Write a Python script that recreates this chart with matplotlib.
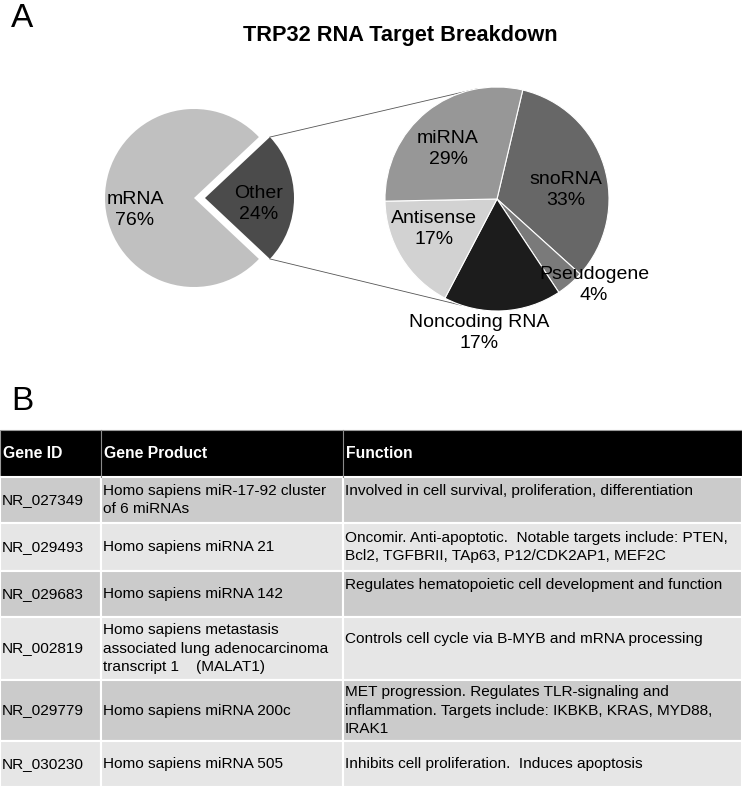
import matplotlib.pyplot as plt
from matplotlib.patches import Rectangle
import numpy as np

plt.rcParams['font.family'] = ['Liberation Sans', 'DejaVu Sans']

W, H = 742, 788

# Panel A data
title = "TRP32 RNA Target Breakdown"
main_labels = ["mRNA", "Other"]
main_pct = [76, 24]
main_colors = ["#c0c0c0", "#4b4b4b"]

sub_labels = ["snoRNA", "Pseudogene", "Noncoding RNA", "Antisense", "miRNA"]
sub_pct = [33, 4, 17, 17, 29]
sub_colors = ["#676767", "#7a7a7a", "#1c1c1c", "#d2d2d2", "#979797"]

# Panel B data
col_names = ["Gene ID", "Gene Product", "Function"]
gene_ids = ["NR_027349", "NR_029493", "NR_029683", "NR_002819", "NR_029779", "NR_030230"]
gene_products = [
    "Homo sapiens miR-17-92 cluster\nof 6 miRNAs",
    "Homo sapiens miRNA 21",
    "Homo sapiens miRNA 142",
    "Homo sapiens metastasis\nassociated lung adenocarcinoma\ntranscript 1    (MALAT1)",
    "Homo sapiens miRNA 200c",
    "Homo sapiens miRNA 505",
]
functions = [
    "Involved in cell survival, proliferation, differentiation\n",
    "Oncomir. Anti-apoptotic.  Notable targets include: PTEN,\nBcl2, TGFBRII, TAp63, P12/CDK2AP1, MEF2C",
    "Regulates hematopoietic cell development and function\n",
    "Controls cell cycle via B-MYB and mRNA processing\n",
    "MET progression. Regulates TLR-signaling and\ninflammation. Targets include: IKBKB, KRAS, MYD88,\nIRAK1",
    "Inhibits cell proliferation.  Induces apoptosis",
]

# layout (pixel coords, y down)
main_c, main_r = (194, 198), 89
sub_c, sub_r = (497, 199), 112
main_label_xy = [(135, 210), (259, 204)]
sub_label_xy = [(566, 190), (594, 285), (479, 333), (434, 229), (448, 149)]
row_edges = [430, 477, 523, 571, 617, 680, 741, 787]
col_edges = [0, 101, 343, 742]

fig = plt.figure(figsize=(W / 100, H / 100), dpi=100)
ax = fig.add_axes([0, 0, 1, 1])

# main pie, "Other" wedge pulled out to the right
start = main_pct[1] / 100 * 180
wedges, _ = ax.pie(main_pct, colors=main_colors, center=main_c, radius=main_r,
                   startangle=start, explode=[0, 11], frame=True,
                   wedgeprops=dict(linewidth=0))
for (x, y), name, p in zip(main_label_xy, main_labels, main_pct):
    ax.text(x, y, f"{name}\n{p}%", ha='center', va='center', fontsize=14,
            linespacing=1.25, color='black')

# secondary pie (y axis is inverted, so counterclock turns clockwise on screen)
sw, _ = ax.pie(sub_pct, colors=sub_colors, center=sub_c, radius=sub_r,
               startangle=-76.7, counterclock=True, frame=True,
               wedgeprops=dict(edgecolor='white', linewidth=0.8))
for (x, y), name, p in zip(sub_label_xy, sub_labels, sub_pct):
    ax.text(x, y, f"{name}\n{p}%", ha='center', va='center', fontsize=14,
            linespacing=1.25, color='black', zorder=5)

# connector lines from the "Other" wedge to the secondary pie
ow = wedges[1]
ocx, ocy = ow.center
for th, ang in [(ow.theta1, -100), (ow.theta2, 108)]:
    x0 = ocx + ow.r * np.cos(np.radians(th))
    y0 = ocy + ow.r * np.sin(np.radians(th))
    x1 = sub_c[0] + sub_r * np.cos(np.radians(ang))
    y1 = sub_c[1] + sub_r * np.sin(np.radians(ang))
    ax.plot([x0, x1], [y0, y1], color='#555555', linewidth=0.6, zorder=0)

ax.text(400, 41, title, ha='center', va='baseline', fontsize=15.7, fontweight='bold')
ax.text(11, 27, "A", ha='left', va='baseline', fontsize=24)
ax.text(11, 410, "B", ha='left', va='baseline', fontsize=24)

# Panel B table
ax.add_patch(Rectangle((0, row_edges[0]), W, row_edges[1] - row_edges[0],
                       facecolor='black', edgecolor='#9a9a9a', linewidth=0.8))
for xc in col_edges[1:-1]:
    ax.plot([xc, xc], [row_edges[0], row_edges[1]], color='#8a8a8a', linewidth=0.8)
for j, name in enumerate(col_names):
    ax.text(col_edges[j] + 3, (row_edges[0] + row_edges[1]) / 2, name, ha='left',
            va='center', fontsize=11.3, fontweight='bold', color='white')

fills = ["#cbcbcb", "#e6e6e6"]
for i, cells in enumerate(zip(gene_ids, gene_products, functions)):
    y0, y1 = row_edges[i + 1], row_edges[i + 2]
    for j, txt in enumerate(cells):
        ax.add_patch(Rectangle((col_edges[j], y0), col_edges[j + 1] - col_edges[j], y1 - y0,
                               facecolor=fills[i % 2], edgecolor='white', linewidth=1.5))
        ax.text(col_edges[j] + 2, (y0 + y1) / 2, txt, ha='left',
                va='center', fontsize=11.1, linespacing=1.42, color='black')

ax.set_xlim(0, W)
ax.set_ylim(H, 0)
ax.axis('off')

fig.savefig("out.png", dpi=100, facecolor='white')
